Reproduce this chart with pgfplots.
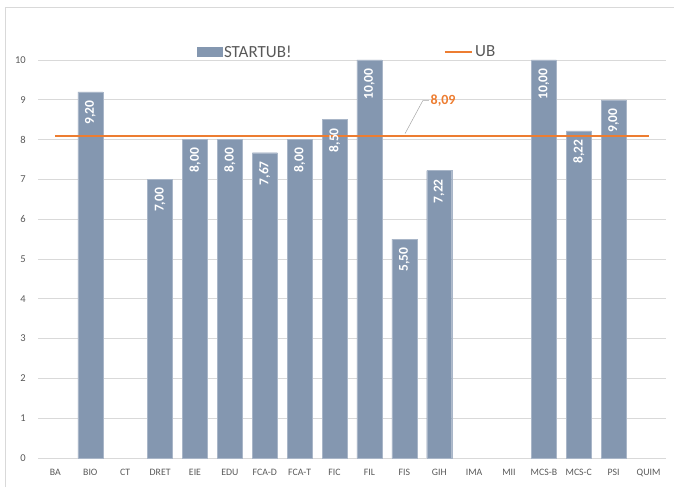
\documentclass[border=0pt]{standalone}
\usepackage{pgfplots}
\pgfplotsset{compat=1.18}
\usepackage{fontspec}
\setmainfont{Carlito}
\definecolor{barc}{HTML}{8497B0}
\definecolor{ubc}{HTML}{ED7D31}
\definecolor{txtc}{HTML}{595959}
\definecolor{gridc}{HTML}{D9D9D9}
\begin{document}
\begin{tikzpicture}[x=1pt,y=1pt]
\useasboundingbox (0,0) rectangle (674,487);
\draw[gridc, line width=0.8pt] (5,0) -- (5,480) -- (674,480);
\begin{axis}[
  at={(38pt,29pt)}, anchor=south west,
  scale only axis, width=628pt, height=398pt,
  xmin=-0.5, xmax=17.5, ymin=0, ymax=10,
  xtick={0,...,17},
  xticklabels={BA,BIO,CT,DRET,EIE,EDU,FCA-D,FCA-T,FIC,FIL,FIS,GIH,IMA,MII,MCS-B,MCS-C,PSI,QUIM},
  ytick={0,...,10},
  /pgf/number format/assume math mode=true,
  axis line style={draw=none},
  major tick length=0pt,
  ymajorgrids, grid style={gridc, line width=0.8pt},
  tick label style={text=txtc},
  yticklabel style={anchor=east, inner sep=0pt, xshift=-12pt, font=\fontsize{10.5}{12}\selectfont},
  xticklabel style={anchor=north, inner sep=0pt, yshift=-11pt, font=\fontsize{9.8}{11}\selectfont},
  clip=false,
  legend columns=2,
  legend style={at={(0.492,1.02)}, anchor=center, draw=none, fill=none,
    font=\fontsize{17}{19}\selectfont, text=txtc,
    /tikz/every even column/.append style={column sep=150pt},
    inner sep=0pt, cells={anchor=west}},
]
\addplot[ybar, bar width=25pt, fill=barc, draw=barc!70!white, line width=0.4pt,
  nodes near coords={\pgfmathprintnumber[fixed,fixed zerofill,precision=2,use comma]{\pgfplotspointmeta}},
  every node near coord/.append style={rotate=90, anchor=east, text=white,
     font=\bfseries\fontsize{13.5}{15}\selectfont, xshift=-5pt},
  legend image code/.code={\fill[barc] (0pt,-4.5pt) rectangle (25pt,4.5pt);},
] coordinates {
 (1,9.20) (3,7.00) (4,8.00) (5,8.00) (6,7.67) (7,8.00) (8,8.50) (9,10.00)
 (10,5.50) (11,7.22) (14,10.00) (15,8.22) (16,9.00)
};
\addlegendentry{STARTUB!}
\addplot[ubc, line width=2.6pt, mark=none,
  legend image code/.code={\draw[ubc, line width=2.6pt] (0pt,0pt) -- (27pt,0pt);},
] coordinates {(0,8.09) (17,8.09)};
\addlegendentry{UB}
\draw[gray!70, line width=0.5pt] (axis cs:10.02,8.15) -- (axis cs:10.53,8.98) -- (axis cs:10.70,8.98);
\node[anchor=west, inner sep=1pt, text=ubc, font=\bfseries\fontsize{14}{16}\selectfont] at (axis cs:10.72,8.98) {8,09};
\end{axis}
\end{tikzpicture}
\end{document}
